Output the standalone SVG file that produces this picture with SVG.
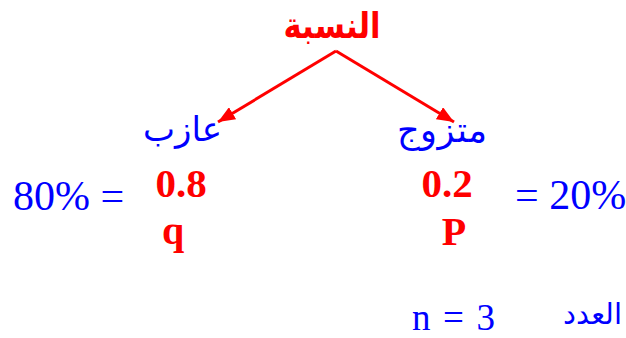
<svg xmlns="http://www.w3.org/2000/svg" width="626" height="338" viewBox="0 0 626 338">
<style>
.ar{font-family:"Liberation Serif","DejaVu Sans",serif;fill:#0000ff}
.num{font-family:"Liberation Serif",serif;fill:#ff0000;font-weight:bold}
.eq{font-family:"Liberation Serif",serif;fill:#0000ff}
.arrow{stroke:#ff0000;stroke-width:3;fill:none}
</style>
<defs>
<marker id="ah" markerUnits="userSpaceOnUse" markerWidth="18" markerHeight="14" refX="17" refY="7" orient="auto">
<path d="M0,0 L17,7 L0,14 z" fill="#ff0000"/>
</marker>
</defs>
<rect width="626" height="338" fill="#ffffff"/>
<g id="root">
<text x="332" y="38" text-anchor="middle" font-size="36" font-weight="bold" font-family="Liberation Serif,DejaVu Sans,serif" fill="#ff0000" textLength="97" lengthAdjust="spacingAndGlyphs">النسبة</text>
</g>
<g id="connectors">
<line class="arrow" x1="336" y1="51" x2="218" y2="122" marker-end="url(#ah)"/>
<line class="arrow" x1="336" y1="51" x2="454" y2="122" marker-end="url(#ah)"/>
</g>
<g id="single">
<text class="ar" x="143" y="141" font-size="34" textLength="79">عازب</text>
<text class="num" x="181" y="197" text-anchor="middle" font-size="41">0.8</text>
<text class="num" x="173" y="244" text-anchor="middle" font-size="40">q</text>
<text class="eq" x="13" y="210" font-size="42">80% =</text>
</g>
<g id="married">
<text class="ar" x="397" y="142" font-size="35" textLength="90">متزوج</text>
<text class="num" x="447" y="197" text-anchor="middle" font-size="41">0.2</text>
<text class="num" x="454" y="245" text-anchor="middle" font-size="40">P</text>
<text class="eq" x="515" y="209" font-size="42">= 20%</text>
</g>
<g id="count">
<text class="eq" x="412" y="330" font-size="37" textLength="83">n = 3</text>
<text class="ar" x="563" y="324" font-size="29" textLength="59">العدد</text>
</g>
</svg>
